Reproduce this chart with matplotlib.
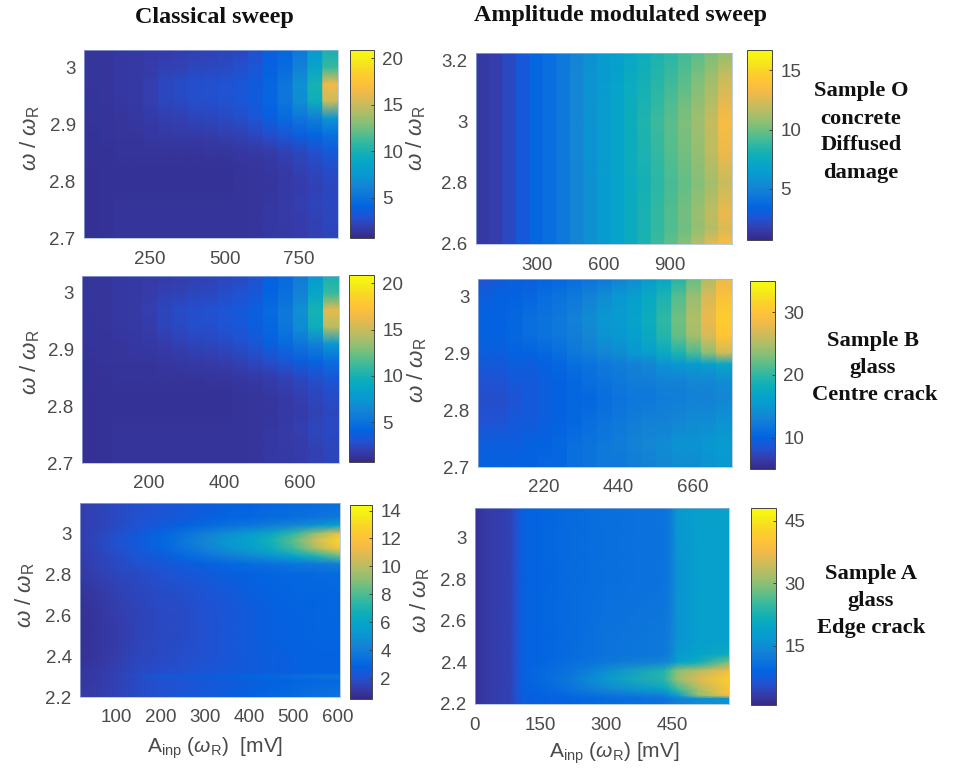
import matplotlib
matplotlib.use("Agg")
import matplotlib.pyplot as plt
import numpy as np
from matplotlib.colors import LinearSegmentedColormap

plt.rcParams['font.family'] = ['Liberation Sans', 'DejaVu Sans']
plt.rcParams['mathtext.fontset'] = 'custom'
plt.rcParams['mathtext.rm'] = 'Liberation Sans'
plt.rcParams['mathtext.it'] = 'Liberation Sans:italic'

W, H = 954, 771
GREY = '#4a4a4a'

# parula
parula = LinearSegmentedColormap.from_list('parula', [
    (0.2081, 0.1663, 0.5292), (0.2081, 0.2386, 0.6771), (0.1253, 0.3242, 0.8303),
    (0.0117, 0.3875, 0.8820), (0.0498, 0.4586, 0.8641), (0.0793, 0.5200, 0.8312),
    (0.0343, 0.5966, 0.8199), (0.0231, 0.6418, 0.7913), (0.0590, 0.6838, 0.7254),
    (0.1801, 0.7177, 0.6424), (0.3482, 0.7424, 0.5473), (0.5300, 0.7491, 0.4661),
    (0.6834, 0.7435, 0.4044), (0.8185, 0.7327, 0.3498), (0.9450, 0.7261, 0.2886),
    (0.9990, 0.7653, 0.2164), (0.9789, 0.8271, 0.1633), (0.9598, 0.9218, 0.0948),
    (0.9763, 0.9831, 0.0538)], N=256)

# Classical sweep, sample O (amp = column centres)
amp_co = [54, 104, 154, 204, 254, 304, 354, 404, 454, 504, 554, 604, 654, 704, 754, 804, 854]
freq_co = [3.03, 3.00, 2.97, 2.94, 2.91, 2.88, 2.85, 2.82, 2.79, 2.76, 2.73, 2.70]
resp_co = [
    [1.4, 1.4, 1.5, 1.6, 1.7, 1.8, 1.9, 2.0, 2.1, 2.2, 2.4, 2.8, 3.8, 4.4, 5.5, 7.5, 10.0],
    [1.4, 1.4, 1.5, 1.6, 1.8, 2.0, 2.1, 2.3, 2.4, 2.5, 2.8, 3.2, 4.0, 4.6, 6.0, 8.6, 11.0],
    [1.4, 1.4, 1.5, 1.6, 1.9, 2.4, 2.6, 2.8, 2.9, 3.0, 3.2, 3.6, 4.3, 5.2, 7.0, 10.0, 16.5],
    [1.3, 1.4, 1.5, 1.6, 1.9, 2.3, 2.5, 2.7, 2.8, 2.9, 3.2, 3.6, 4.3, 5.2, 6.8, 9.5, 15.0],
    [1.3, 1.3, 1.4, 1.5, 1.7, 1.9, 2.0, 2.2, 2.3, 2.5, 2.7, 3.1, 3.8, 4.5, 5.2, 5.9, 7.2],
    [1.2, 1.3, 1.4, 1.4, 1.5, 1.6, 1.7, 1.7, 1.8, 1.9, 2.0, 2.3, 2.7, 3.2, 3.7, 4.2, 4.8],
    [1.2, 1.2, 1.3, 1.3, 1.3, 1.3, 1.3, 1.3, 1.4, 1.4, 1.5, 1.6, 1.7, 2.0, 2.3, 2.8, 3.4],
    [1.1, 1.2, 1.2, 1.2, 1.2, 1.2, 1.2, 1.2, 1.2, 1.2, 1.3, 1.4, 1.5, 1.7, 2.0, 2.3, 2.6],
    [1.1, 1.2, 1.2, 1.2, 1.2, 1.2, 1.2, 1.2, 1.2, 1.2, 1.3, 1.4, 1.4, 1.6, 1.8, 2.1, 2.4],
    [1.1, 1.2, 1.3, 1.3, 1.3, 1.3, 1.3, 1.3, 1.3, 1.3, 1.3, 1.4, 1.5, 1.7, 1.9, 2.2, 2.4],
    [1.1, 1.2, 1.3, 1.3, 1.3, 1.3, 1.3, 1.3, 1.3, 1.3, 1.3, 1.4, 1.5, 1.7, 1.8, 2.1, 2.3],
    [1.1, 1.2, 1.3, 1.3, 1.3, 1.3, 1.3, 1.3, 1.3, 1.3, 1.3, 1.4, 1.5, 1.6, 1.8, 2.0, 2.2],
]

# Classical sweep, sample B
amp_cb = [42, 82, 122, 162, 202, 242, 282, 322, 362, 402, 442, 482, 522, 562, 602, 642, 682]
freq_cb = [3.03, 3.00, 2.97, 2.94, 2.91, 2.88, 2.85, 2.82, 2.79, 2.76, 2.73, 2.70]
resp_cb = [
    [1.4, 1.4, 1.5, 1.6, 1.7, 1.8, 1.9, 2.0, 2.1, 2.3, 2.5, 2.9, 3.9, 4.5, 5.6, 7.6, 10.0],
    [1.4, 1.4, 1.5, 1.6, 1.8, 2.0, 2.1, 2.3, 2.4, 2.6, 2.9, 3.3, 4.1, 4.8, 6.1, 8.7, 11.0],
    [1.4, 1.4, 1.5, 1.6, 1.9, 2.3, 2.6, 2.8, 2.9, 3.1, 3.4, 3.8, 4.5, 5.4, 7.0, 10.0, 16.0],
    [1.3, 1.4, 1.5, 1.6, 1.8, 2.2, 2.5, 2.7, 2.8, 3.0, 3.3, 3.7, 4.4, 5.3, 6.8, 9.5, 14.5],
    [1.3, 1.3, 1.4, 1.5, 1.6, 1.8, 2.0, 2.2, 2.3, 2.5, 2.8, 3.2, 3.9, 4.5, 5.2, 6.0, 7.4],
    [1.2, 1.3, 1.4, 1.4, 1.4, 1.5, 1.6, 1.7, 1.8, 1.9, 2.1, 2.4, 2.8, 3.3, 3.7, 4.2, 4.8],
    [1.2, 1.2, 1.3, 1.3, 1.3, 1.3, 1.3, 1.3, 1.4, 1.4, 1.5, 1.6, 1.8, 2.1, 2.4, 2.8, 3.3],
    [1.1, 1.2, 1.2, 1.2, 1.2, 1.2, 1.2, 1.2, 1.2, 1.2, 1.3, 1.4, 1.5, 1.7, 2.0, 2.3, 2.6],
    [1.1, 1.2, 1.2, 1.2, 1.2, 1.2, 1.2, 1.2, 1.2, 1.2, 1.3, 1.4, 1.4, 1.6, 1.8, 2.1, 2.4],
    [1.1, 1.2, 1.3, 1.3, 1.3, 1.3, 1.3, 1.3, 1.3, 1.3, 1.3, 1.4, 1.5, 1.7, 1.9, 2.3, 2.5],
    [1.1, 1.2, 1.3, 1.3, 1.3, 1.3, 1.3, 1.3, 1.3, 1.3, 1.3, 1.4, 1.5, 1.7, 1.8, 2.1, 2.3],
    [1.1, 1.2, 1.3, 1.3, 1.3, 1.3, 1.3, 1.3, 1.3, 1.3, 1.3, 1.4, 1.5, 1.6, 1.8, 2.0, 2.2],
]

# Classical sweep, sample A
amp_ca = [19, 60, 100, 150, 200, 250, 300, 350, 400, 450, 500, 550, 605]
freq_ca = [3.15, 3.08, 3.04, 3.00, 2.97, 2.93, 2.89, 2.85, 2.80, 2.70, 2.60, 2.50, 2.40,
           2.32, 2.30, 2.28, 2.20]
resp_ca = [
    [1.3, 1.5, 1.7, 1.9, 2.1, 2.3, 2.5, 2.7, 2.8, 3.0, 3.1, 3.2, 3.3],
    [1.3, 1.5, 1.7, 2.0, 2.2, 2.4, 2.7, 2.9, 3.0, 3.2, 3.3, 3.5, 3.8],
    [1.3, 1.5, 1.8, 2.1, 2.4, 2.8, 3.1, 3.4, 3.7, 4.0, 4.4, 5.0, 6.0],
    [1.3, 1.6, 1.9, 2.4, 2.9, 3.4, 4.1, 4.7, 5.4, 6.2, 7.5, 9.2, 11.5],
    [1.3, 1.6, 2.0, 2.5, 3.0, 3.6, 4.4, 5.1, 5.8, 6.8, 8.3, 10.5, 13.0],
    [1.3, 1.6, 2.0, 2.4, 2.9, 3.5, 4.2, 4.9, 5.6, 6.5, 7.8, 9.8, 12.3],
    [1.3, 1.5, 1.8, 2.2, 2.5, 3.0, 3.5, 4.0, 4.5, 5.1, 5.9, 7.0, 8.5],
    [1.2, 1.5, 1.7, 2.0, 2.2, 2.5, 2.7, 3.0, 3.2, 3.4, 3.6, 3.8, 4.0],
    [1.1, 1.4, 1.6, 1.8, 2.0, 2.2, 2.4, 2.6, 2.8, 2.9, 3.0, 3.1, 3.2],
    [0.9, 1.1, 1.4, 1.6, 1.8, 1.9, 2.1, 2.3, 2.6, 2.8, 2.9, 2.9, 3.0],
    [0.8, 1.0, 1.3, 1.5, 1.7, 1.8, 2.0, 2.2, 2.5, 2.7, 2.8, 2.9, 3.0],
    [0.75, 1.0, 1.2, 1.5, 1.7, 1.8, 2.0, 2.2, 2.5, 2.7, 2.8, 2.9, 2.9],
    [0.85, 1.0, 1.3, 1.6, 1.7, 1.9, 2.0, 2.2, 2.5, 2.6, 2.7, 2.8, 2.8],
    [1.0, 1.2, 1.4, 1.7, 1.9, 2.0, 2.2, 2.3, 2.5, 2.6, 2.7, 2.8, 2.8],
    [1.0, 1.2, 1.5, 1.9, 2.3, 2.4, 2.5, 2.7, 2.9, 3.1, 3.3, 3.5, 3.7],
    [1.0, 1.2, 1.4, 1.8, 2.0, 2.1, 2.3, 2.4, 2.6, 2.8, 2.9, 3.0, 3.1],
    [1.2, 1.3, 1.5, 1.8, 2.0, 2.2, 2.4, 2.6, 2.8, 3.0, 3.2, 3.4, 3.5],
]

# Amplitude modulated sweep, sample O
amp_mo = [55, 116, 177, 238, 298, 359, 420, 481, 542, 603, 663, 724, 785, 846, 907, 968, 1028, 1089, 1150]
freq_mo = [3.226, 3.15, 3.05, 3.00, 2.90, 2.80, 2.70, 2.65, 2.60]
resp_mo = [
    [1.4, 1.6, 2.1, 2.8, 3.6, 3.9, 4.5, 5.1, 5.7, 6.2, 6.7, 7.2, 7.7, 8.2, 8.6, 9.1, 9.6, 10.2, 10.8],
    [1.4, 1.6, 2.1, 2.8, 3.6, 3.9, 4.5, 5.2, 5.8, 6.3, 6.8, 7.4, 7.9, 8.4, 8.9, 9.5, 10.2, 11.0, 12.0],
    [1.4, 1.6, 2.1, 2.8, 3.6, 3.9, 4.5, 5.2, 5.8, 6.4, 7.0, 7.6, 8.2, 8.8, 9.4, 10.1, 10.8, 11.6, 13.0],
    [1.4, 1.6, 2.1, 2.8, 3.6, 3.9, 4.5, 5.2, 5.8, 6.4, 7.0, 7.6, 8.3, 9.0, 9.6, 10.3, 11.0, 11.9, 13.5],
    [1.4, 1.6, 2.1, 2.8, 3.6, 3.9, 4.5, 5.2, 5.8, 6.4, 7.0, 7.6, 8.2, 8.8, 9.5, 10.1, 10.8, 11.7, 13.0],
    [1.4, 1.6, 2.1, 2.8, 3.6, 3.9, 4.5, 5.1, 5.7, 6.3, 6.9, 7.4, 8.0, 8.6, 9.2, 9.8, 10.4, 11.1, 12.0],
    [1.4, 1.6, 2.1, 2.8, 3.6, 3.9, 4.5, 5.1, 5.7, 6.3, 6.9, 7.5, 8.1, 8.8, 9.4, 10.1, 10.9, 11.8, 13.0],
    [1.4, 1.6, 2.1, 2.8, 3.6, 3.9, 4.5, 5.1, 5.7, 6.3, 6.9, 7.5, 8.1, 8.8, 9.4, 10.0, 10.7, 11.5, 12.5],
    [1.4, 1.6, 2.1, 2.8, 3.6, 3.9, 4.5, 5.1, 5.7, 6.3, 6.9, 7.5, 8.2, 9.0, 9.7, 10.5, 11.6, 12.8, 13.5],
]

# Amplitude modulated sweep, sample B
amp_mb = [47, 91, 135, 179, 223, 267, 311, 355, 399, 443, 487, 531, 575, 619, 663, 707, 751]
freq_mb = [3.03, 3.00, 2.96, 2.93, 2.90, 2.88, 2.85, 2.82, 2.78, 2.74, 2.70]
resp_mb = [
    [8.5, 9.0, 9.5, 9.5, 10.0, 10.5, 11.0, 11.5, 12.0, 13.0, 14.0, 15.5, 17.0, 19.5, 22.0, 25.0, 28.0],
    [9.5, 10.0, 10.0, 10.5, 11.0, 11.5, 12.0, 13.0, 14.0, 15.0, 16.0, 17.5, 19.0, 21.5, 24.0, 27.0, 29.5],
    [10.0, 10.0, 10.5, 11.0, 11.5, 12.0, 13.0, 14.0, 15.0, 15.5, 16.5, 18.0, 20.0, 22.5, 25.0, 28.0, 31.0],
    [10.0, 10.0, 10.5, 11.0, 11.5, 12.0, 12.5, 13.5, 14.5, 15.0, 16.0, 17.5, 19.5, 22.0, 24.5, 27.0, 30.0],
    [9.5, 9.5, 10.0, 10.0, 10.5, 11.0, 12.0, 12.5, 13.5, 14.0, 15.0, 16.0, 17.5, 19.0, 21.0, 23.5, 26.5],
    [9.0, 9.0, 9.5, 9.5, 10.0, 10.5, 11.0, 11.5, 12.0, 12.5, 13.0, 13.5, 14.5, 15.0, 15.5, 16.0, 17.0],
    [8.5, 8.5, 9.0, 9.0, 9.5, 10.0, 10.5, 11.0, 11.5, 12.0, 12.5, 12.5, 13.0, 13.0, 13.5, 13.5, 14.0],
    [8.0, 8.0, 8.5, 9.0, 9.5, 10.0, 10.5, 10.5, 11.0, 11.5, 12.0, 12.0, 12.5, 12.5, 13.0, 13.0, 13.5],
    [8.5, 8.5, 9.0, 9.0, 9.5, 10.0, 10.5, 11.0, 11.5, 12.0, 12.5, 13.0, 13.0, 13.5, 14.0, 14.0, 14.5],
    [9.5, 9.5, 9.5, 10.0, 10.0, 10.5, 11.0, 11.5, 12.0, 12.5, 13.0, 13.5, 14.0, 14.5, 14.5, 15.0, 15.5],
    [10.0, 10.0, 10.0, 10.0, 10.5, 10.5, 11.0, 11.5, 12.0, 12.0, 12.5, 13.0, 13.5, 14.0, 14.0, 14.5, 15.0],
]

# Amplitude modulated sweep, sample A
amp_ma = [0, 20, 50, 80, 95, 110, 150, 220, 300, 430, 445, 462, 510, 580]
freq_ma = [3.144, 2.80, 2.50, 2.44, 2.40, 2.36, 2.32, 2.27, 2.24, 2.225, 2.20]
resp_ma = [
    [2.0, 3.0, 3.5, 4.0, 6.0, 8.5, 9.0, 10.0, 10.5, 11.0, 12.0, 17.0, 18.5, 19.0],
    [2.0, 3.0, 3.5, 4.0, 6.0, 8.5, 9.0, 10.0, 10.5, 11.0, 12.0, 16.0, 18.0, 18.5],
    [2.0, 3.0, 3.5, 4.0, 6.0, 8.5, 9.0, 10.0, 11.0, 12.0, 13.0, 16.0, 18.0, 18.5],
    [2.0, 3.0, 3.5, 4.0, 6.0, 8.5, 9.0, 10.0, 11.0, 12.0, 13.0, 17.0, 19.0, 21.0],
    [2.0, 3.0, 3.5, 4.0, 6.0, 8.5, 9.0, 10.5, 12.0, 14.0, 15.0, 19.0, 22.0, 29.0],
    [2.0, 3.0, 3.5, 4.0, 6.0, 8.5, 9.5, 11.0, 15.0, 23.0, 26.0, 30.0, 33.0, 38.0],
    [2.0, 3.0, 3.5, 4.0, 6.0, 8.5, 9.5, 12.0, 17.0, 24.0, 27.0, 31.0, 36.0, 42.0],
    [2.0, 3.0, 3.5, 4.0, 6.0, 8.5, 9.0, 11.0, 14.0, 19.0, 22.0, 25.0, 32.0, 40.0],
    [2.0, 3.0, 3.5, 4.0, 6.0, 8.0, 8.5, 9.5, 11.0, 13.0, 15.0, 17.0, 30.0, 39.0],
    [2.0, 3.0, 3.5, 4.0, 6.0, 8.0, 8.5, 9.0, 10.0, 11.0, 12.0, 13.0, 15.0, 16.0],
    [2.0, 3.0, 3.5, 4.0, 6.0, 8.0, 8.5, 9.0, 10.0, 11.0, 12.0, 13.0, 15.0, 16.0],
]

fig = plt.figure(figsize=(W / 100, H / 100), dpi=100)


def box(left, top, right, bottom):
    # pixel box to figure fractions
    return [left / W, 1 - bottom / H, (right - left) / W, (bottom - top) / H]


def panel(x, y, z, xlim, ylim, clim, xticks, yticks, cticks, ax_px, cb_px, bands=False):
    ax = fig.add_axes(box(*ax_px))
    if bands:
        # hard steps from one amplitude column to the next, smooth along frequency
        edges = [xlim[0]] + [(a + b) / 2 for a, b in zip(x[:-1], x[1:])] + [xlim[1]]
        x = np.repeat(edges, 2)[1:-1]
        z = np.repeat(z, 2, axis=1)
    mesh = ax.pcolormesh(x, y, z, cmap=parula, vmin=clim[0], vmax=clim[1], shading='gouraud')
    ax.set_xticks(xticks)
    ax.set_yticks(yticks)
    ax.set_yticklabels([('%g' % t) for t in yticks])
    ax.set_xlim(xlim)
    ax.set_ylim(ylim)
    ax.tick_params(axis='x', length=0, pad=9, labelsize=13.5, labelcolor=GREY)
    ax.tick_params(axis='y', length=0, pad=6, labelsize=13.5, labelcolor=GREY)
    for s in ax.spines.values():
        s.set_linewidth(0.5)
        s.set_color('#9fb6d8')
    cax = fig.add_axes(box(*cb_px))
    cb = fig.colorbar(mesh, cax=cax)
    cb.set_ticks(cticks)
    cb.outline.set_linewidth(0.7)
    cb.outline.set_edgecolor('#444444')
    cax.tick_params(direction='in', length=2.5, width=0.7, color='#444444', pad=6,
                    labelsize=13.5, labelcolor=GREY)
    return ax


panel(amp_co, freq_co, resp_co, (29, 880), (2.70, 3.03), (0.7, 20.9),
      [250, 500, 750], [2.7, 2.8, 2.9, 3], [5, 10, 15, 20],
      (84, 50, 338, 238), (350, 50, 374, 238), bands=True)
panel(amp_cb, freq_cb, resp_cb, (22, 703), (2.70, 3.03), (0.7, 20.9),
      [200, 400, 600], [2.7, 2.8, 2.9, 3], [5, 10, 15, 20],
      (82, 276, 339, 463), (349, 275, 374, 462), bands=True)
panel(amp_ca, freq_ca, resp_ca, (19, 605), (2.20, 3.15), (0.5, 14.4),
      [100, 200, 300, 400, 500, 600], [2.2, 2.4, 2.6, 2.8, 3], [2, 4, 6, 8, 10, 12, 14],
      (80, 503, 340, 697), (350, 505, 372, 699))
panel(amp_mo, freq_mo, resp_mo, (25, 1180), (2.60, 3.226), (0.7, 16.7),
      [300, 600, 900], [2.6, 2.8, 3, 3.2], [5, 10, 15],
      (476, 53, 732, 244), (747, 50, 772, 240), bands=True)
panel(amp_mb, freq_mb, resp_mb, (25, 775), (2.70, 3.03), (5, 35),
      [220, 440, 660], [2.7, 2.8, 2.9, 3], [10, 20, 30],
      (478, 279, 732, 467), (750, 281, 775, 469), bands=True)
panel(amp_ma, freq_ma, resp_ma, (0, 580), (2.20, 3.144), (0.8, 48),
      [0, 150, 300, 450], [2.2, 2.4, 2.6, 2.8, 3], [15, 30, 45],
      (475, 508, 729, 704), (751, 508, 776, 705))


def label(px, py, s, **kw):
    fig.text(px / W, 1 - py / H, s, ha='center', va='center', **kw)


ylab = r'$\mathit{\omega}$ / $\mathit{\omega}_{\mathrm{R}}$'
for px, py in [(30, 138), (30, 362), (25, 595), (416, 138), (417, 370), (420, 600)]:
    label(px, py, ylab, rotation=90, fontsize=16, color=GREY)

label(215, 748, r'A$_{\mathrm{inp}}$ ($\mathit{\omega}_{\mathrm{R}}$)  [mV]', fontsize=15, color=GREY)
label(614, 753, r'A$_{\mathrm{inp}}$ ($\mathit{\omega}_{\mathrm{R}}$) [mV]', fontsize=15, color=GREY)

serif = dict(family='Liberation Serif', fontweight='bold', color='#111111')
label(214, 17, 'Classical sweep', fontsize=17.4, **serif)
label(621, 16, 'Amplitude modulated sweep', fontsize=17.3, **serif)

for px, py, s in [(861, 91, 'Sample O'), (861, 119, 'concrete'), (861, 145, 'Diffused'),
                  (861, 173, 'damage'),
                  (873, 341, 'Sample B'), (873, 368, 'glass'), (875, 395, 'Centre crack'),
                  (871, 574, 'Sample A'), (871, 601, 'glass'), (871, 628, 'Edge crack')]:
    label(px, py, s, fontsize=16.2, **serif)

fig.savefig('out.png', dpi=100)
